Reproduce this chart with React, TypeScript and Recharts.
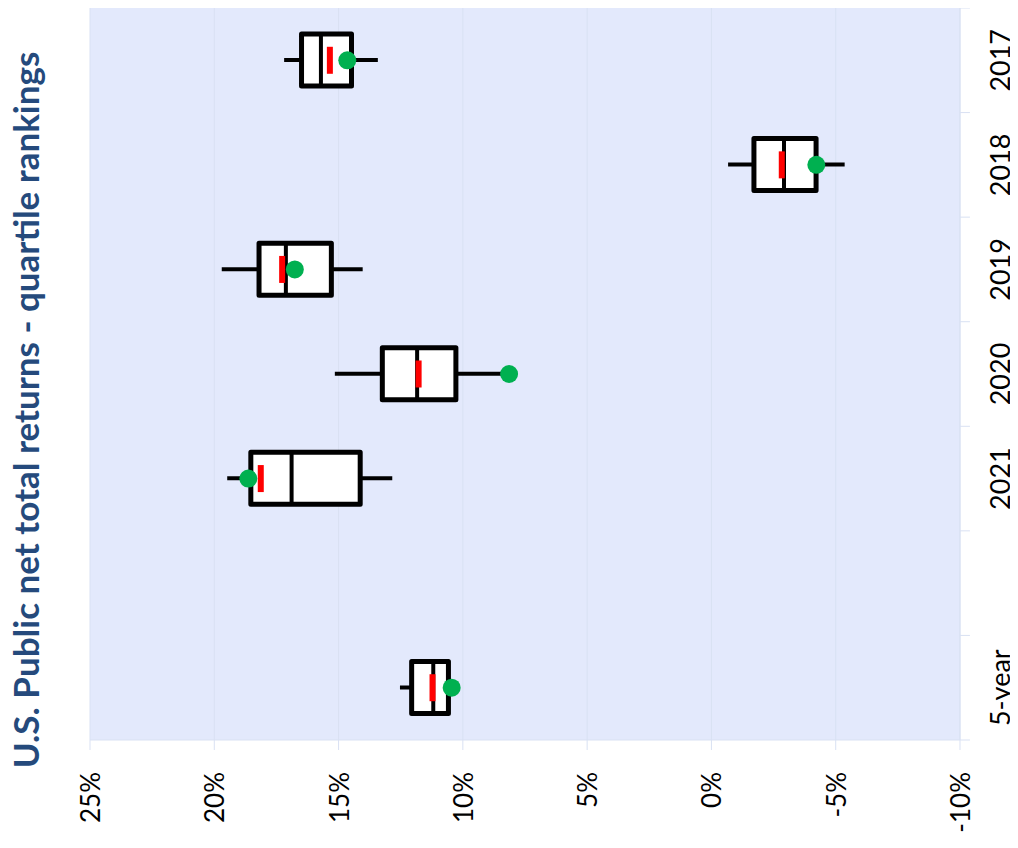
import {
  ComposedChart,
  Bar,
  Scatter,
  XAxis,
  YAxis,
  CartesianGrid,
  ReferenceLine,
} from "recharts";

// categories top to bottom; the empty one is a spacer row
const categories = ["2017", "2018", "2019", "2020", "2021", "", "5-year"];

// quartile ranking stats (%)
const whiskerLow = [13.42, -5.36, 14.03, 8.2, 12.84, null, 10.45];
const whiskerHigh = [17.19, -0.67, 19.7, 15.15, 19.48, null, 12.53];
const boxLow = [14.48, -4.21, 15.29, 10.28, 14.13, null, 10.58];
const boxHigh = [16.49, -1.71, 18.2, 13.24, 18.53, null, 12.06];
const medians = [15.71, -2.92, 17.12, 11.84, 16.89, null, 11.19];
const means = [15.35, -2.83, 17.27, 11.78, 18.13, null, 11.22];
const fundReturn = [14.65, -4.22, 16.76, 8.14, 18.63, null, 10.45];

const xTicks = [-10, -5, 0, 5, 10, 15, 20, 25];

const data = categories.map((name, i) => ({
  name,
  whisker: whiskerLow[i] == null ? null : [whiskerLow[i], whiskerHigh[i]],
  box: boxLow[i] == null ? null : [boxLow[i], boxHigh[i]],
  median: medians[i],
  mean: means[i],
  fund: fundReturn[i],
}));

// small tick marks on the right edge, at the band boundaries
const bandEdges: { cat: string; pos: "start" | "end" }[] = [
  ...categories.filter((c) => c !== "").map((c) => ({ cat: c, pos: "start" as const })),
  { cat: "2021", pos: "end" },
  { cat: "5-year", pos: "end" },
];

const FONT = "Lato, 'Noto Sans', sans-serif";
const GRID = "#d9e1f3";

const WhiskerShape = (p: any) => {
  if (p.width == null || isNaN(p.width)) return null;
  const cy = p.y + p.height / 2;
  return <line x1={p.x} x2={p.x + p.width} y1={cy} y2={cy} stroke="#000" strokeWidth={4} />;
};

const BoxShape = (p: any) => {
  if (p.width == null || isNaN(p.width)) return null;
  const x = Math.min(p.x, p.x + p.width);
  const w = Math.abs(p.width);
  return (
    <rect
      x={x}
      y={p.y}
      width={w}
      height={p.height}
      fill="#fff"
      stroke="#000"
      strokeWidth={5}
      strokeLinejoin="round"
    />
  );
};

const MedianShape = (p: any) => {
  if (p.cx == null || isNaN(p.cx)) return null;
  return <line x1={p.cx} x2={p.cx} y1={p.cy - 26} y2={p.cy + 26} stroke="#000" strokeWidth={4} />;
};

const MeanShape = (p: any) => {
  if (p.cx == null || isNaN(p.cx)) return null;
  return <rect x={p.cx - 3} y={p.cy - 13.5} width={6} height={27} fill="#ff0000" />;
};

const FundShape = (p: any) => {
  if (p.cx == null || isNaN(p.cx)) return null;
  return <circle cx={p.cx} cy={p.cy} r={9} fill="#00b050" />;
};

const XTick = ({ x, y, payload }: any) => (
  <text
    x={x}
    y={y}
    transform={`rotate(-90, ${x}, ${y})`}
    textAnchor="end"
    dominantBaseline="central"
    fontFamily={FONT}
    fontSize={26}
    fill="#000"
  >
    {`${payload.value}%`}
  </text>
);

const YTick = ({ x, y, payload }: any) => {
  const bx = x + 50;
  return (
    <text
      x={bx}
      y={y}
      transform={`rotate(-90, ${bx}, ${y})`}
      textAnchor="middle"
      fontFamily={FONT}
      fontSize={27}
      fill="#000"
    >
      {payload.value}
    </text>
  );
};

export default function App() {
  return (
    <div style={{ position: "relative", width: 1010, height: 840 }}>
      <div
        style={{
          position: "absolute",
          left: 17 - 420,
          top: 402 - 22,
          width: 840,
          height: 44,
          lineHeight: "44px",
          textAlign: "center",
          transform: "rotate(-90deg)",
          fontFamily: FONT,
          fontWeight: 700,
          fontSize: 35,
          color: "#254a7c",
          whiteSpace: "nowrap",
        }}
      >
        U.S. Public net total returns - quartile rankings
      </div>
      <ComposedChart
        width={1010}
        height={840}
        data={data}
        layout="vertical"
        margin={{ top: 0, right: 0, left: 82, bottom: 0 }}
      >
        <CartesianGrid
          yAxisId="main"
          horizontal={false}
          vertical={true}
          fill="#e3e9fc"
          stroke={GRID}
        />
        <XAxis
          type="number"
          domain={[-10, 25]}
          ticks={xTicks}
          reversed
          height={108}
          tickSize={10}
          tickMargin={22}
          tick={<XTick />}
          stroke={GRID}
          tickLine={{ stroke: GRID }}
          axisLine={{ stroke: GRID }}
          interval={0}
        />
        <YAxis
          yAxisId="main"
          type="category"
          dataKey="name"
          orientation="right"
          width={58}
          tickLine={false}
          tickSize={0}
          tickMargin={0}
          axisLine={{ stroke: GRID }}
          tick={<YTick />}
          interval={0}
        />
        <YAxis yAxisId="box" type="category" dataKey="name" hide />
        {bandEdges.map((e, i) => (
          <ReferenceLine
            key={i}
            yAxisId="main"
            position={e.pos}
            segment={[
              { x: -10, y: e.cat },
              { x: -10.4, y: e.cat },
            ]}
            stroke={GRID}
            ifOverflow="visible"
          />
        ))}
        <Bar
          yAxisId="main"
          dataKey="whisker"
          barSize={20}
          shape={<WhiskerShape />}
          isAnimationActive={false}
        />
        <Bar
          yAxisId="box"
          dataKey="box"
          barSize={52}
          shape={<BoxShape />}
          isAnimationActive={false}
        />
        <Scatter yAxisId="main" dataKey="median" shape={<MedianShape />} isAnimationActive={false} />
        <Scatter yAxisId="main" dataKey="mean" shape={<MeanShape />} isAnimationActive={false} />
        <Scatter yAxisId="main" dataKey="fund" shape={<FundShape />} isAnimationActive={false} />
      </ComposedChart>
    </div>
  );
}
